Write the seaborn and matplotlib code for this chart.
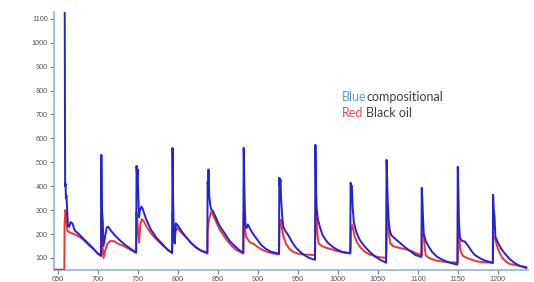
import matplotlib
matplotlib.use("Agg")
import matplotlib.pyplot as plt
import seaborn as sns

# blue = compositional model
blue_x = [658.5, 659, 659.5, 660, 660.7, 661.5, 662.5, 664, 666, 668, 671, 676, 682, 688, 694, 700, 703.8,
          704.3, 705, 706, 707, 709, 711, 713, 716, 721, 727, 734, 740, 747.8,
          748.3, 749, 749.7, 750.5, 751.5, 752.5, 754.5, 756, 760, 766, 773, 780, 787, 792.8,
          793.3, 794, 795, 796, 797.5, 800, 805, 810, 816, 822, 828, 836.8,
          837.2, 837.7, 838.3, 839.2, 840.5, 842, 844, 848, 852, 858, 865, 871, 877, 881.8,
          882.3, 883, 883.7, 884.5, 886, 887.5, 889, 893, 898, 904, 910, 917, 926.5,
          926.8, 927.5, 928.3, 929.2, 930.5, 932, 935, 939, 943, 947, 952, 958, 964, 971.5,
          972, 972.7, 973.5, 975, 978, 981, 987, 994, 1000, 1006, 1015.5,
          1016, 1016.8, 1017.5, 1018.5, 1020, 1023, 1027, 1033, 1040, 1047, 1053, 1060.3,
          1061, 1061.8, 1062.5, 1063.5, 1065, 1067, 1071, 1077, 1084, 1090, 1097, 1104.5,
          1105, 1105.8, 1106.5, 1107.5, 1110, 1114, 1118, 1124, 1131, 1140, 1149.5,
          1150, 1150.8, 1151.5, 1152.5, 1155, 1159, 1163, 1167, 1171, 1178, 1185, 1193.8,
          1194.2, 1195, 1196, 1197, 1200, 1205, 1209, 1215, 1221, 1228, 1236]
blue_y = [1125, 400, 410, 350, 360, 300, 235, 230, 250, 245, 215, 200, 180, 160, 140, 118, 108,
          531, 300, 260, 150, 190, 228, 230, 215, 195, 175, 155, 140, 122,
          485, 440, 470, 360, 270, 300, 315, 305, 265, 220, 185, 160, 135, 120,
          560, 350, 180, 160, 245, 235, 210, 188, 165, 146, 132, 122,
          420, 400, 470, 360, 320, 300, 295, 265, 235, 205, 170, 150, 132, 122,
          560, 420, 310, 235, 225, 240, 230, 205, 182, 155, 138, 125, 118,
          435, 400, 428, 340, 270, 228, 210, 190, 165, 145, 128, 112, 100, 92,
          573, 400, 310, 262, 225, 195, 165, 145, 133, 125, 120,
          414, 395, 402, 315, 250, 210, 178, 150, 125, 105, 92, 80,
          510, 420, 330, 260, 215, 195, 182, 165, 145, 130, 112, 104,
          393, 340, 272, 200, 170, 145, 125, 105, 92, 80, 72,
          481, 380, 250, 185, 172, 168, 150, 130, 113, 98, 88, 79,
          364, 300, 272, 190, 165, 135, 118, 95, 79, 66, 58]

# red = black oil model (flat at the axis floor before the first spike)
red_x = [645, 658, 658.3, 659.3, 660.3, 661, 662, 666, 670, 676, 682, 688, 694, 700, 703.8,
         704.2, 705, 706, 707, 709, 712, 716, 720, 725, 732, 740, 747.8,
         748.2, 749.5, 750.5, 751.5, 753, 755, 757, 761, 767, 774, 781, 787, 792.8,
         793.3, 794.5, 795.5, 797, 799, 802, 806, 811, 817, 823, 830, 836.8,
         837, 837.3, 838.5, 840, 841.5, 844, 848, 852, 858, 865, 872, 881.8,
         882.3, 883.5, 885, 887, 890, 895, 900, 906, 913, 920, 926.5,
         927, 927.5, 928.5, 930, 932, 935, 939, 944, 950, 958, 971.5,
         972.3, 973.5, 974.5, 976, 980, 986, 993, 1000, 1008, 1015.5,
         1016, 1016.5, 1018, 1019.5, 1021, 1024, 1028, 1034, 1040, 1050, 1060.3,
         1061, 1061.5, 1063, 1064, 1065.5, 1070, 1077, 1085, 1093, 1099, 1104.5,
         1105, 1105.3, 1107.5, 1108.5, 1110, 1115, 1122, 1130, 1140, 1149.5,
         1150, 1150.3, 1151.5, 1153, 1156, 1160, 1168, 1175, 1185, 1193.8,
         1194, 1194.5, 1197, 1199, 1202, 1205, 1210, 1215, 1225, 1236]
red_y = [51, 51, 240, 300, 285, 240, 212, 205, 200, 190, 175, 155, 138, 118, 110,
         290, 240, 140, 100, 130, 160, 172, 170, 160, 150, 135, 122,
         290, 250, 200, 165, 240, 262, 255, 230, 200, 175, 152, 135, 122,
         295, 220, 175, 215, 225, 215, 200, 183, 160, 143, 128, 118,
         120, 220, 250, 275, 292, 280, 250, 220, 190, 158, 135, 118,
         290, 250, 190, 180, 165, 158, 145, 133, 124, 118, 115,
         200, 245, 260, 225, 190, 160, 140, 126, 118, 114, 112,
         285, 270, 200, 160, 150, 142, 135, 128, 122, 118,
         130, 215, 238, 215, 190, 165, 145, 125, 114, 104, 100,
         130, 285, 262, 200, 160, 148, 142, 136, 128, 118, 112,
         112, 200, 196, 150, 110, 98, 90, 85, 82, 80,
         80, 238, 230, 135, 110, 102, 92, 85, 81, 80,
         80, 188, 180, 150, 125, 104, 85, 75, 68, 62]

x_ticks = list(range(650, 1201, 50))
y_ticks = list(range(100, 1101, 100))

sns.set_style("white")
plt.rcParams['font.family'] = ['Liberation Sans', 'DejaVu Sans']

fig = plt.figure(figsize=(5.34, 2.82), dpi=100)
ax = fig.add_axes([0.101, 0.043, 0.888, 0.914])

sns.lineplot(x=red_x, y=red_y, sort=False, estimator=None, color="#ee3535", lw=1.4, ax=ax, zorder=3)
sns.lineplot(x=blue_x, y=blue_y, sort=False, estimator=None, color="#2323d4", lw=1.4, ax=ax, zorder=3.1)

ax.set_xlim(645, 1238)
ax.set_ylim(50, 1128)
ax.set_xticks(x_ticks)
ax.set_yticks(y_ticks)
ax.set_xlabel("")
ax.set_ylabel("")

spine_col = "#8fb4d6"
for side in ["top", "right"]:
    ax.spines[side].set_visible(False)
for side in ["left", "bottom"]:
    ax.spines[side].set_color(spine_col)
    ax.spines[side].set_linewidth(1.2)
ax.tick_params(axis="both", direction="out", length=3, width=0.8, color="#777777",
               labelsize=5.2, labelcolor="#555555", pad=1.5)
ax.tick_params(axis="both", which="both", left=True, bottom=True)

# legend written as coloured words
fig.text(0.640, 0.655, "Blue", color="#5b9bd5", fontsize=9, family="Lato", va="center")
fig.text(0.686, 0.655, "compositional", color="#404040", fontsize=9, family="Lato", va="center")
fig.text(0.640, 0.598, "Red", color="#e0504f", fontsize=9, family="Lato", va="center")
fig.text(0.686, 0.598, "Black oil", color="#404040", fontsize=9, family="Lato", va="center")

plt.savefig("out.png", dpi=100)
